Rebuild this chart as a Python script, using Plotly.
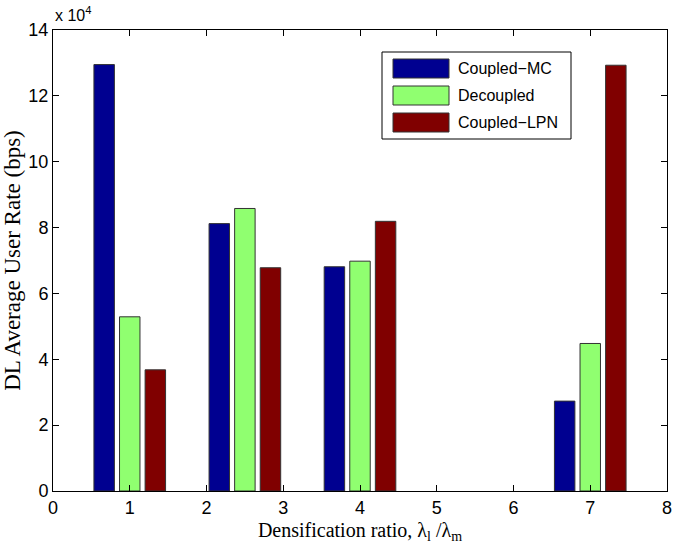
import plotly.graph_objects as go

# Data (values in units of 10^4 bps, as on the axis)
ratios = [1, 2.5, 4, 7]
series_names = ["Coupled-MC", "Decoupled", "Coupled-LPN"]
coupled_mc = [12.95, 8.12, 6.81, 2.73]
decoupled = [5.29, 8.58, 6.98, 4.48]
coupled_lpn = [3.68, 6.78, 8.19, 12.93]
colors = ["#000090", "#90FF70", "#800000"]
x_ticks = [0, 1, 2, 3, 4, 5, 6, 7, 8]
y_ticks = [0, 2, 4, 6, 8, 10, 12, 14]

W, H = 685, 551
ML, MR, MT, MB = 53, 18, 30, 60
PW, PH = W - ML - MR, H - MT - MB


def px(x):
    return (x - ML) / PW


def py(y):
    return (H - MB - y) / PH


fig = go.Figure()
for name, vals, col in zip(series_names, [coupled_mc, decoupled, coupled_lpn], colors):
    fig.add_trace(go.Bar(
        x=ratios, y=vals, name=name,
        marker=dict(color=col, line=dict(color="#333333", width=1)),
        showlegend=False,
    ))

tick_font = dict(family="Liberation Sans, Arial", size=18, color="black")
xtitle_font = dict(family="Liberation Serif, Times New Roman", size=20, color="black")
ytitle_font = dict(family="Liberation Serif, Times New Roman", size=23, color="black")

fig.update_layout(
    width=W, height=H, autosize=False,
    margin=dict(l=ML, r=MR, t=MT, b=MB, autoexpand=False),
    plot_bgcolor="white", paper_bgcolor="white",
    barmode="group", bargap=1/3, bargroupgap=0.2,
    xaxis=dict(
        range=[0, 8], tickvals=x_ticks, ticks="inside", ticklen=6,
        tickcolor="black", showline=True, linecolor="black", linewidth=1,
        mirror="ticks", showgrid=False, zeroline=False, tickfont=tick_font,
        automargin=False,
        title=dict(text="Densification ratio, λ<sub>l</sub> /λ<sub>m</sub>",
                   font=xtitle_font, standoff=6),
    ),
    yaxis=dict(
        range=[0, 14], tickvals=y_ticks, ticks="inside", ticklen=6,
        tickcolor="black", showline=True, linecolor="black", linewidth=1,
        mirror="ticks", showgrid=False, zeroline=False, tickfont=tick_font,
        automargin=False,
        title=dict(text="DL Average User Rate (bps)", font=ytitle_font, standoff=4),
    ),
)

# exponent label
fig.add_annotation(xref="paper", yref="paper", x=0, y=1, xanchor="left",
                   yanchor="bottom", yshift=4, showarrow=False,
                   text="x 10<sup>4</sup>",
                   font=dict(family="Liberation Sans, Arial", size=16, color="black"))

# custom legend (MATLAB style), placed in pixel terms
fig.add_shape(type="rect", xref="paper", yref="paper",
              x0=px(382), x1=px(571), y0=py(139), y1=py(52),
              line=dict(color="black", width=1), fillcolor="white", layer="above")
rows_px = [(59, 78), (86, 105), (113, 132)]
for (top, bot), name, col in zip(rows_px, series_names, colors):
    fig.add_shape(type="rect", xref="paper", yref="paper",
                  x0=px(393), x1=px(449), y0=py(bot), y1=py(top),
                  line=dict(color="#333333", width=1), fillcolor=col, layer="above")
    fig.add_annotation(xref="paper", yref="paper", x=px(456), y=py((top + bot) / 2),
                       xanchor="left", yanchor="middle", showarrow=False,
                       text=name.replace("-", "\u2212"),
                       font=dict(family="Liberation Sans, Arial", size=16, color="black"))

fig.write_html("out.html", config={"displayModeBar": False},
               post_script="document.body.style.margin='0';document.body.style.padding='0';"
                           "document.body.style.overflow='hidden';"
                           "document.documentElement.style.overflow='hidden';")
